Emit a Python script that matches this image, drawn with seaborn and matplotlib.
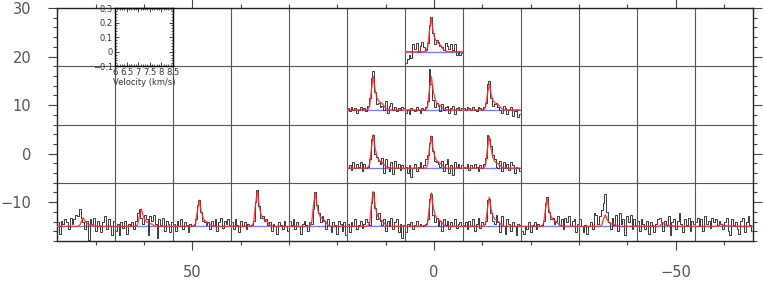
import numpy as np
import matplotlib
matplotlib.use("Agg")
import matplotlib.pyplot as plt
from matplotlib.ticker import MultipleLocator
import seaborn as sns

sns.set_style("ticks")
plt.rcParams['font.family'] = ['DejaVu Sans']

# velocity channels of each spectrum (km/s)
velocity = np.linspace(6.04, 8.46, 32)

# map offsets of the cells that hold a spectrum
cell_x = [72, 60, 48, 36, 24, 12, 0, -12, -24, -36, -48, -60, 12, 0, -12, 12, 0, -12, 0]
cell_y = [-12, -12, -12, -12, -12, -12, -12, -12, -12, -12, -12, -12, 0, 0, 0, 12, 12, 12, 24]

spectra = [
    [0.03, -0.05, 0.04, 0.02, 0.05, 0.03, -0.02, 0.06, 0.02, 0.05, 0.08, 0.07, 0.12, 0.06, 0.03, -0.02, 0.04, -0.09, 0.05, 0.02, 0.06, -0.03, 0.04, 0.01, -0.04, 0.03, 0.07, -0.02, 0.05, 0.0, -0.06, 0.04],
    [-0.03, 0.02, -0.06, 0.03, -0.01, 0.04, -0.05, 0.02, 0.0, 0.03, -0.02, 0.04, 0.09, 0.12, 0.06, 0.02, 0.08, 0.05, -0.06, 0.07, 0.04, 0.08, 0.02, -0.08, 0.05, 0.01, 0.06, -0.03, 0.04, 0.02, -0.04, 0.03],
    [0.02, -0.03, 0.04, 0.0, 0.05, -0.02, 0.03, 0.01, -0.04, 0.02, 0.0, 0.01, 0.05, 0.15, 0.18, 0.10, 0.04, 0.03, 0.01, 0.03, -0.02, 0.04, 0.0, 0.05, -0.03, 0.03, 0.06, -0.01, 0.04, 0.02, 0.05, 0.01],
    [0.03, -0.02, 0.05, 0.01, -0.04, 0.04, 0.0, 0.03, -0.02, 0.02, 0.0, 0.01, 0.04, 0.17, 0.25, 0.14, 0.06, 0.07, 0.04, 0.05, 0.01, 0.03, -0.03, 0.02, 0.0, -0.05, 0.03, 0.01, -0.02, 0.04, 0.0, -0.03],
    [0.04, 0.01, 0.05, -0.02, 0.03, 0.0, -0.05, 0.02, 0.04, 0.01, -0.03, 0.03, 0.02, 0.12, 0.24, 0.15, 0.09, 0.03, 0.07, 0.04, -0.02, 0.05, 0.0, -0.04, 0.03, 0.01, -0.05, 0.04, 0.02, -0.03, 0.03, -0.06],
    [0.02, -0.04, 0.03, 0.0, 0.05, -0.02, 0.01, 0.04, -0.01, 0.02, 0.05, 0.03, 0.01, 0.16, 0.24, 0.13, 0.05, 0.09, 0.04, 0.01, 0.05, -0.03, 0.04, 0.0, 0.06, -0.02, 0.03, 0.05, -0.04, 0.02, -0.08, 0.01],
    [-0.04, 0.02, 0.0, 0.03, -0.02, 0.01, 0.04, 0.0, 0.02, 0.0, 0.01, 0.02, 0.05, 0.19, 0.22, 0.08, 0.03, 0.06, 0.0, 0.04, -0.03, 0.05, 0.01, 0.04, -0.02, 0.03, 0.0, 0.05, -0.01, 0.02, 0.03, 0.0],
    [0.01, 0.03, -0.02, 0.04, 0.0, 0.05, -0.03, 0.02, 0.06, -0.01, 0.03, 0.02, 0.04, 0.18, 0.19, 0.09, 0.04, 0.02, 0.08, 0.03, -0.04, 0.07, 0.0, -0.05, 0.05, 0.02, -0.03, 0.03, 0.0, -0.06, 0.02, 0.01],
    [-0.03, -0.05, 0.0, -0.02, 0.03, -0.04, 0.01, 0.03, -0.02, 0.02, 0.0, 0.01, 0.04, 0.16, 0.20, 0.10, 0.05, 0.06, 0.02, 0.03, 0.07, 0.01, 0.05, -0.02, 0.06, 0.03, 0.07, 0.0, 0.04, 0.05, -0.04, 0.02],
    [0.05, 0.0, -0.04, 0.01, -0.05, 0.0, 0.03, -0.02, 0.09, 0.08, 0.02, 0.07, 0.11, 0.16, 0.22, 0.10, 0.03, -0.02, 0.06, 0.01, 0.08, -0.03, 0.09, 0.02, 0.05, -0.06, 0.07, 0.03, 0.08, -0.02, 0.05, 0.01],
    [0.04, -0.03, 0.05, 0.02, -0.02, 0.04, -0.05, 0.03, 0.01, -0.04, 0.02, 0.05, 0.06, 0.03, -0.03, 0.04, 0.01, 0.07, -0.06, 0.03, 0.05, -0.02, 0.04, 0.09, 0.02, -0.04, 0.05, 0.01, 0.06, -0.03, 0.04, 0.02],
    [0.03, 0.06, 0.0, 0.05, -0.03, 0.07, 0.02, 0.04, -0.01, 0.06, 0.03, 0.05, 0.01, 0.04, 0.02, -0.02, 0.03, 0.06, -0.03, -0.06, 0.05, 0.01, 0.03, -0.02, -0.05, 0.04, 0.06, -0.04, 0.03, 0.07, 0.01, -0.03],
    [0.0, 0.02, -0.01, 0.04, 0.0, 0.03, 0.01, 0.04, -0.02, 0.03, 0.0, 0.01, 0.06, 0.20, 0.23, 0.10, 0.08, 0.05, 0.03, 0.07, -0.03, 0.06, 0.01, -0.02, 0.04, -0.04, 0.05, 0.0, 0.03, -0.01, 0.02, 0.0],
    [0.01, -0.03, 0.02, -0.06, 0.0, 0.03, -0.02, 0.01, 0.04, 0.0, 0.02, 0.06, 0.09, 0.17, 0.22, 0.12, 0.05, 0.04, 0.03, 0.01, 0.05, -0.02, 0.03, 0.06, -0.03, 0.02, -0.05, 0.04, 0.01, 0.03, 0.0, 0.02],
    [0.01, 0.0, 0.03, -0.01, 0.02, 0.0, 0.03, 0.01, -0.02, 0.02, 0.0, 0.03, 0.07, 0.23, 0.20, 0.15, 0.09, 0.06, 0.01, 0.0, 0.05, -0.02, 0.04, 0.0, 0.03, -0.01, 0.04, 0.02, -0.03, 0.01, 0.0, -0.02],
    [0.01, -0.01, 0.02, 0.0, 0.01, -0.02, 0.0, 0.02, 0.0, 0.01, -0.01, 0.03, 0.08, 0.22, 0.27, 0.12, 0.04, 0.05, 0.02, 0.03, 0.0, 0.06, -0.02, 0.03, 0.05, 0.0, 0.02, -0.01, 0.01, 0.0, 0.02, 0.01],
    [-0.02, 0.0, -0.03, 0.01, 0.0, -0.01, 0.02, 0.0, -0.02, 0.01, 0.0, 0.02, 0.06, 0.28, 0.18, 0.07, 0.02, 0.05, 0.03, -0.01, 0.04, 0.0, 0.02, 0.03, -0.02, 0.01, 0.03, -0.03, 0.01, 0.02, 0.0, 0.01],
    [0.01, 0.0, 0.02, 0.01, 0.0, 0.02, 0.0, -0.01, 0.02, 0.01, 0.0, 0.02, 0.05, 0.18, 0.20, 0.08, 0.03, 0.04, 0.05, 0.02, 0.0, -0.02, 0.03, 0.01, -0.03, 0.0, 0.02, -0.04, -0.01, 0.0, -0.05, -0.03],
    [-0.08, -0.05, -0.02, -0.04, 0.05, 0.02, 0.06, 0.0, 0.04, 0.07, 0.03, 0.01, 0.06, 0.18, 0.24, 0.13, 0.05, 0.08, 0.07, 0.04, 0.03, 0.01, 0.06, 0.04, 0.02, 0.05, 0.01, 0.05, -0.02, 0.0, -0.02, -0.01],
]

# fitted line profiles, same channels
fits = [
    [0, 0, 0, 0, 0, 0, 0, 0, 0, 0, 0, 0.001, 0.007, 0.037, 0.060, 0.036, 0.021, 0.013, 0.011, 0.009, 0.005, 0.002, 0.001, 0, 0, 0, 0, 0, 0, 0, 0, 0],
    [0, 0, 0, 0, 0, 0, 0, 0, 0, 0, 0, 0.001, 0.014, 0.074, 0.120, 0.072, 0.044, 0.031, 0.026, 0.021, 0.013, 0.005, 0.002, 0, 0, 0, 0, 0, 0, 0, 0, 0],
    [0, 0, 0, 0, 0, 0, 0, 0, 0, 0, 0, 0.002, 0.022, 0.112, 0.180, 0.108, 0.062, 0.040, 0.032, 0.026, 0.015, 0.006, 0.002, 0, 0, 0, 0, 0, 0, 0, 0, 0],
    [0, 0, 0, 0, 0, 0, 0, 0, 0, 0, 0, 0.002, 0.029, 0.149, 0.240, 0.144, 0.085, 0.057, 0.047, 0.038, 0.023, 0.009, 0.003, 0, 0, 0, 0, 0, 0, 0, 0, 0],
    [0, 0, 0, 0, 0, 0, 0, 0, 0, 0, 0, 0.002, 0.028, 0.143, 0.230, 0.138, 0.085, 0.061, 0.052, 0.043, 0.025, 0.010, 0.003, 0, 0, 0, 0, 0, 0, 0, 0, 0],
    [0, 0, 0, 0, 0, 0, 0, 0, 0, 0, 0, 0.002, 0.029, 0.149, 0.240, 0.144, 0.085, 0.057, 0.047, 0.038, 0.023, 0.009, 0.003, 0, 0, 0, 0, 0, 0, 0, 0, 0],
    [0, 0, 0, 0, 0, 0, 0, 0, 0, 0, 0, 0.002, 0.028, 0.143, 0.230, 0.138, 0.082, 0.057, 0.047, 0.038, 0.023, 0.009, 0.003, 0, 0, 0, 0, 0, 0, 0, 0, 0],
    [0, 0, 0, 0, 0, 0, 0, 0, 0, 0, 0, 0.002, 0.024, 0.124, 0.200, 0.120, 0.072, 0.050, 0.042, 0.034, 0.020, 0.008, 0.002, 0, 0, 0, 0, 0, 0, 0, 0, 0],
    [0, 0, 0, 0, 0, 0, 0, 0, 0, 0, 0, 0.002, 0.023, 0.118, 0.190, 0.114, 0.070, 0.049, 0.042, 0.034, 0.020, 0.008, 0.002, 0, 0, 0, 0, 0, 0, 0, 0, 0],
    [0, 0, 0, 0, 0, 0, 0, 0, 0, 0, 0, 0.001, 0.010, 0.050, 0.080, 0.048, 0.028, 0.019, 0.016, 0.013, 0.008, 0.003, 0.001, 0, 0, 0, 0, 0, 0, 0, 0, 0],
    [0, 0, 0, 0, 0, 0, 0, 0, 0, 0, 0, 0, 0.003, 0.016, 0.025, 0.015, 0.009, 0.006, 0.005, 0.004, 0.003, 0.001, 0, 0, 0, 0, 0, 0, 0, 0, 0, 0],
    [0, 0, 0, 0, 0, 0, 0, 0, 0, 0, 0, 0, 0.002, 0.009, 0.015, 0.009, 0.005, 0.004, 0.003, 0.003, 0.002, 0.001, 0, 0, 0, 0, 0, 0, 0, 0, 0, 0],
    [0, 0, 0, 0, 0, 0, 0, 0, 0, 0, 0, 0.002, 0.028, 0.143, 0.230, 0.138, 0.082, 0.057, 0.047, 0.038, 0.023, 0.009, 0.003, 0, 0, 0, 0, 0, 0, 0, 0, 0],
    [0, 0, 0, 0, 0, 0, 0, 0, 0, 0, 0, 0.002, 0.026, 0.136, 0.220, 0.132, 0.077, 0.051, 0.042, 0.034, 0.020, 0.008, 0.002, 0, 0, 0, 0, 0, 0, 0, 0, 0],
    [0, 0, 0, 0, 0, 0, 0, 0, 0, 0, 0, 0.002, 0.026, 0.136, 0.220, 0.132, 0.074, 0.047, 0.037, 0.030, 0.018, 0.007, 0.002, 0, 0, 0, 0, 0, 0, 0, 0, 0],
    [0, 0, 0, 0, 0, 0, 0, 0, 0, 0, 0, 0.002, 0.028, 0.143, 0.230, 0.138, 0.085, 0.061, 0.052, 0.043, 0.025, 0.010, 0.003, 0, 0, 0, 0, 0, 0, 0, 0, 0],
    [0, 0, 0, 0, 0, 0, 0, 0, 0, 0, 0, 0.002, 0.028, 0.143, 0.230, 0.138, 0.077, 0.048, 0.037, 0.030, 0.018, 0.007, 0.002, 0, 0, 0, 0, 0, 0, 0, 0, 0],
    [0, 0, 0, 0, 0, 0, 0, 0, 0, 0, 0, 0.002, 0.022, 0.112, 0.180, 0.108, 0.067, 0.049, 0.042, 0.034, 0.020, 0.008, 0.002, 0, 0, 0, 0, 0, 0, 0, 0, 0],
    [0, 0, 0, 0, 0, 0, 0, 0, 0, 0, 0, 0.002, 0.028, 0.146, 0.235, 0.141, 0.089, 0.066, 0.057, 0.047, 0.028, 0.011, 0.003, 0, 0, 0, 0, 0, 0, 0, 0, 0],
]

# labelled key panel
key_vel_ticks = [6, 6.5, 7, 7.5, 8, 8.5]
key_vel_labels = ['6', '6.5', '7', '7.5', '8', '8.5']
key_int_ticks = [-0.1, 0, 0.1, 0.2, 0.3]
key_int_labels = ['\u22120.1', '0', '0.1', '0.2', '0.3']

XMAX, XMIN = 78, -66
YMIN, YMAX = -18, 30
CELL = 12
VLO, VHI = 6, 8.5
ILO, IHI = -0.1, 0.3

fig = plt.figure(figsize=(7.63, 2.81), dpi=100)
ax = fig.add_axes([0.0747, 0.1423, 0.9122, 0.8292])
ax.set_xlim(XMAX, XMIN)
ax.set_ylim(YMIN, YMAX)

# cell boundaries
for xb in np.arange(XMAX - CELL, XMIN, -CELL):
    ax.axvline(xb, color='#555555', lw=0.8, zorder=1)
for yb in np.arange(YMIN + CELL, YMAX, CELL):
    ax.axhline(yb, color='#555555', lw=0.8, zorder=1)

ax.xaxis.set_major_locator(MultipleLocator(50))
ax.xaxis.set_minor_locator(MultipleLocator(10))
ax.yaxis.set_major_locator(MultipleLocator(10))
ax.yaxis.set_minor_locator(MultipleLocator(2))
ax.tick_params(which='both', direction='out', top=True, right=True,
               labeltop=False, labelright=False, color='#444444',
               labelsize=10.5, labelcolor='#555555')
ax.tick_params(which='major', length=6.5, width=0.8)
ax.tick_params(which='minor', length=3, width=0.8)
ax.tick_params(axis='x', which='major', pad=11)
ax.tick_params(axis='y', which='major', pad=12)
for s in ax.spines.values():
    s.set_color('#222222')
    s.set_linewidth(1.0)


def cell_bounds(xc, yc):
    return [(XMAX - (xc + CELL / 2)) / (XMAX - XMIN),
            (yc - CELL / 2 - YMIN) / (YMAX - YMIN),
            CELL / (XMAX - XMIN), CELL / (YMAX - YMIN)]


for xc, yc, spec, fit in zip(cell_x, cell_y, spectra, fits):
    cax = ax.inset_axes(cell_bounds(xc, yc))
    cax.set_xlim(VLO, VHI)
    cax.set_ylim(ILO, IHI)
    cax.axhline(0, color='#7b7bff', lw=1.0)
    sns.lineplot(x=velocity, y=spec, ax=cax, color='#3a3a3a', lw=0.7,
                 drawstyle='steps-mid', estimator=None)
    sns.lineplot(x=velocity, y=fit, ax=cax, color='#ff2a2a', lw=1.0,
                 alpha=0.85, estimator=None)
    cax.set_xticks([])
    cax.set_yticks([])
    cax.axis('off')

# key panel in the upper left cell
kax = ax.inset_axes(cell_bounds(60, 24))
kax.set_xlim(VLO, VHI)
kax.set_ylim(ILO, IHI)
kax.set_xticks(key_vel_ticks)
kax.set_xticklabels(key_vel_labels)
kax.set_yticks(key_int_ticks)
kax.set_yticklabels(key_int_labels)
kax.xaxis.set_minor_locator(MultipleLocator(0.1))
kax.yaxis.set_minor_locator(MultipleLocator(0.02))
kax.tick_params(which='both', direction='in', top=True, right=True,
                labelsize=6, pad=1.5, labelcolor='#333333')
kax.tick_params(which='major', length=3, width=0.6)
kax.tick_params(which='minor', length=1.5, width=0.5)
kax.set_xlabel('Velocity (km/s)', fontsize=6, labelpad=0.5, color='#333333')
kax.patch.set_alpha(0)
for s in kax.spines.values():
    s.set_color('black')
    s.set_linewidth(1.0)

fig.savefig('out.png', dpi=100)
